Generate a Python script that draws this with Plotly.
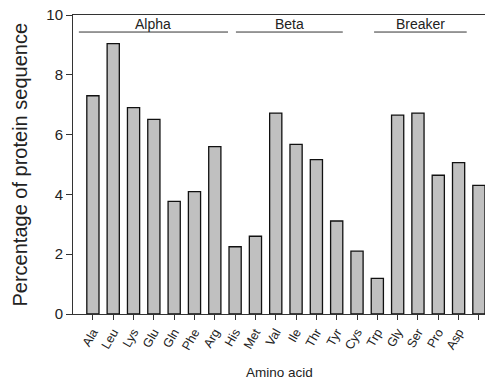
import plotly.graph_objects as go

amino_acids = ["Ala", "Leu", "Lys", "Glu", "Gln", "Phe", "Arg", "His", "Met", "Val",
               "Ile", "Thr", "Tyr", "Cys", "Trp", "Gly", "Ser", "Pro", "Asp", "Asn"]
percentages = [7.3, 9.04, 6.9, 6.51, 3.77, 4.09, 5.6, 2.25, 2.6, 6.72,
               5.67, 5.16, 3.11, 2.1, 1.19, 6.65, 6.72, 4.64, 5.06, 4.3]
group_names = ["Alpha", "Beta", "Breaker"]
group_spans = [(-0.69, 6.65), (7.04, 12.3), (13.84, 18.4)]
group_line_y = 9.43

x_idx = list(range(len(amino_acids)))
FONT = "Liberation Sans, Arial"

fig = go.Figure(go.Bar(
    x=x_idx, y=percentages, width=0.6,
    marker=dict(color="#c0c0c0", line=dict(color="#111111", width=1.3)),
))

shapes = []
annotations = []
for name, (x0, x1) in zip(group_names, group_spans):
    shapes.append(dict(type="line", xref="x", yref="y", x0=x0, x1=x1,
                       y0=group_line_y, y1=group_line_y,
                       line=dict(color="#333333", width=1)))
    annotations.append(dict(x=(x0 + x1) / 2, y=group_line_y, xref="x", yref="y",
                            text=name, showarrow=False, yanchor="bottom", yshift=-2,
                            font=dict(family=FONT, size=14, color="#222222")))

annotations.append(dict(x=0.5, y=-0.194, xref="paper", yref="paper", text="Amino acid",
                        showarrow=False, yanchor="middle",
                        font=dict(family=FONT, size=13.5, color="#222222")))
annotations.append(dict(x=-0.131, y=0.5, xref="paper", yref="paper",
                        text="Percentage of protein sequence", textangle=-90,
                        showarrow=False, xanchor="center", yanchor="middle",
                        font=dict(family=FONT, size=20, color="#222222")))

fig.update_layout(
    width=485, height=382,
    margin=dict(l=73, r=0, t=15, b=68, autoexpand=False),
    paper_bgcolor="white", plot_bgcolor="white",
    showlegend=False,
    shapes=shapes, annotations=annotations,
    font=dict(family=FONT, color="#222222"),
    xaxis=dict(
        range=[-0.98, 19.3], tickmode="array", tickvals=x_idx, ticktext=amino_acids,
        tickangle=-60, tickfont=dict(size=12.5), automargin=False,
        showline=True, linecolor="#333333", linewidth=1, mirror=True,
        ticks="outside", ticklen=5, tickcolor="#333333", showgrid=False, zeroline=False,
    ),
    yaxis=dict(
        range=[0, 10], tickvals=[0, 2, 4, 6, 8, 10], tickfont=dict(size=15),
        automargin=False,
        showline=True, linecolor="#333333", linewidth=1,
        ticks="outside", ticklen=6, tickcolor="#333333", showgrid=False, zeroline=False,
    ),
)

fig.write_html("out.html", config={"displayModeBar": False},
               post_script="document.body.style.margin='0';")
